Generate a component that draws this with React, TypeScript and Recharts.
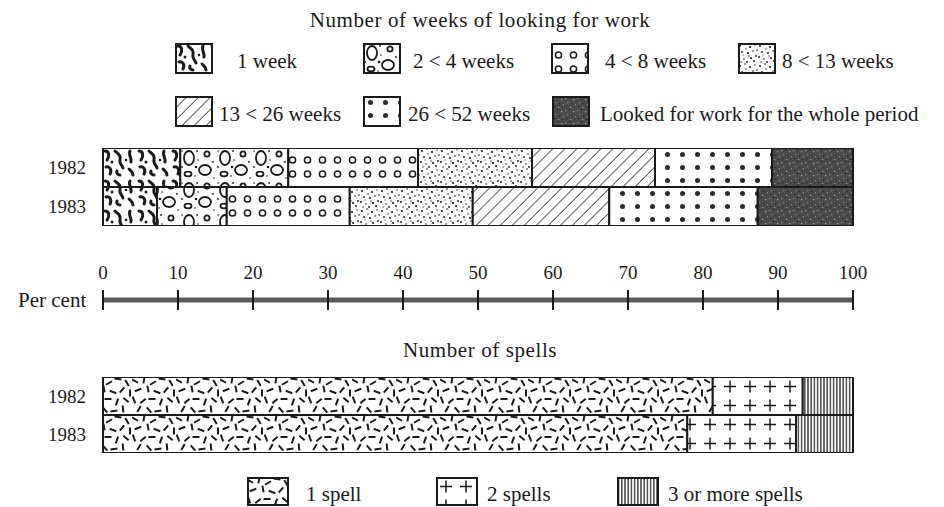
import React from 'react';
import { BarChart, Bar, XAxis, YAxis } from 'recharts';

const years = ['1982', '1983'];

const weekLabels = ['1 week', '2 < 4 weeks', '4 < 8 weeks', '8 < 13 weeks', '13 < 26 weeks', '26 < 52 weeks', 'Looked for work for the whole period'];
const weeks1982 = [10.3, 14.4, 17.3, 15.2, 16.4, 15.6, 10.8];
const weeks1983 = [7.2, 9.3, 16.4, 16.4, 18.2, 19.8, 12.7];

const spellLabels = ['1 spell', '2 spells', '3 or more spells'];
const spells1982 = [81.3, 12.0, 6.7];
const spells1983 = [77.9, 14.5, 7.6];

const percentTicks = [0, 10, 20, 30, 40, 50, 60, 70, 80, 90, 100];

const weekPatterns = ['pw1', 'pw2', 'pw3', 'pw4', 'pw5', 'pw6', 'pw7'];
const spellPatterns = ['ps1', 'ps2', 'ps3'];

const FONT = "'Liberation Serif', 'DejaVu Serif', serif";
const INK = '#1a1a1a';

const weekRows = years.map((year, i) => {
  const vals = i === 0 ? weeks1982 : weeks1983;
  const row: Record<string, any> = { year };
  vals.forEach((v, k) => (row['w' + k] = v));
  return row;
});

const spellRows = years.map((year, i) => {
  const vals = i === 0 ? spells1982 : spells1983;
  const row: Record<string, any> = { year };
  vals.forEach((v, k) => (row['s' + k] = v));
  return row;
});

// pattern artwork (not data)
const stipple = [
  [2, 3, 1], [7, 1, 0.8], [12, 4, 1.1], [17, 2, 0.7], [4, 9, 0.9], [10, 10, 1], [15, 8, 0.8],
  [1, 14, 1], [6, 16, 0.8], [13, 15, 1.1], [18, 13, 0.9], [9, 19, 0.9], [3, 19, 0.7], [16, 18, 1],
  [8, 6, 0.7], [19, 7, 0.8], [11, 13, 0.7], [5, 12, 0.6],
];

const dashes = [
  [3, 4, 30], [12, 3, 100], [21, 6, 150], [30, 2, 10], [39, 6, 60],
  [6, 13, 160], [16, 12, 80], [25, 15, 20], [34, 13, 130], [42, 16, 90],
  [2, 23, 70], [11, 24, 140], [20, 22, 0], [29, 25, 110], [38, 23, 40],
  [7, 32, 120], [17, 33, 50], [26, 34, 170], [35, 32, 85],
];

const specks = [
  [1, 2, '#8c8c8c'], [5, 1, '#262626'], [9, 3, '#9a9a9a'], [3, 6, '#7a7a7a'], [7, 7, '#2a2a2a'],
  [11, 8, '#888'], [2, 10, '#2b2b2b'], [6, 11, '#999'], [10, 11, '#303030'],
];

const Patterns = () => (
  <svg width={0} height={0} style={{ position: 'absolute' }}>
    <defs>
      <pattern id="pw1" width={34} height={30} patternUnits="userSpaceOnUse">
        <rect width={34} height={30} fill="#fff" />
        <g stroke={INK} strokeWidth={3} fill="none" strokeLinecap="round">
          <path d="M3 3 C7 3 8 8 5 12" />
          <path d="M13 3 C16 6 19 7 18 12 C17 15 20 17 21 20" />
          <path d="M28 3 C26 7 30 10 29 14" />
          <path d="M4 19 C8 18 10 22 8 26" />
          <path d="M15 23 C14 25 16 27 18 27" />
          <path d="M27 21 C29 23 31 24 31 27" />
        </g>
        <circle cx={10} cy={14} r={1.5} fill={INK} />
        <circle cx={24} cy={12} r={1.3} fill={INK} />
      </pattern>
      <pattern id="pw2" width={36} height={32} patternUnits="userSpaceOnUse">
        <rect width={36} height={32} fill="#fff" />
        <g stroke={INK} strokeWidth={1.8} fill="none">
          <ellipse cx={9} cy={10} rx={5} ry={7} />
          <ellipse cx={25} cy={22} rx={6} ry={5} />
          <circle cx={27} cy={6} r={2.6} />
          <ellipse cx={8} cy={26} rx={3.5} ry={2.3} />
        </g>
        <g fill={INK}>
          <circle cx={17} cy={3} r={0.9} />
          <circle cx={18} cy={12} r={0.8} />
          <circle cx={2} cy={19} r={0.9} />
          <circle cx={15} cy={28} r={0.8} />
          <circle cx={33} cy={14} r={0.9} />
          <circle cx={34} cy={30} r={0.8} />
          <circle cx={16} cy={19} r={1.3} />
          <circle cx={2} cy={3} r={0.8} />
        </g>
      </pattern>
      <pattern id="pw3" width={15} height={39} patternUnits="userSpaceOnUse">
        <rect width={15} height={39} fill="#fff" />
        <circle cx={7.5} cy={12} r={3.1} fill="none" stroke={INK} strokeWidth={1.5} />
        <circle cx={7.5} cy={26} r={3.1} fill="none" stroke={INK} strokeWidth={1.5} />
      </pattern>
      <pattern id="pw4" width={20} height={20} patternUnits="userSpaceOnUse">
        <rect width={20} height={20} fill="#fff" />
        {stipple.map(([x, y, r], i) => (
          <circle key={i} cx={x} cy={y} r={r} fill={INK} />
        ))}
      </pattern>
      <pattern id="pw5" width={8.5} height={8.5} patternUnits="userSpaceOnUse" patternTransform="rotate(45)">
        <rect width={8.5} height={8.5} fill="#fff" />
        <line x1={0} y1={0} x2={0} y2={8.5} stroke={INK} strokeWidth={1.4} />
      </pattern>
      <pattern id="pw6" width={15} height={13} patternUnits="userSpaceOnUse">
        <rect width={15} height={13} fill="#fff" />
        <circle cx={7.5} cy={6.5} r={2.5} fill="#2a2a2a" />
      </pattern>
      <pattern id="pw7" width={12} height={12} patternUnits="userSpaceOnUse">
        <rect width={12} height={12} fill="#4a4a4a" />
        {specks.map(([x, y, c], i) => (
          <rect key={i} x={x as number} y={y as number} width={1.3} height={1.3} fill={c as string} />
        ))}
      </pattern>
      <pattern id="ps1" width={44} height={38} patternUnits="userSpaceOnUse">
        <rect width={44} height={38} fill="#fff" />
        {dashes.map(([x, y, a], i) => (
          <line key={i} x1={x - 3.5} y1={y} x2={x + 3.5} y2={y} stroke={INK} strokeWidth={2}
            transform={`rotate(${a} ${x} ${y})`} />
        ))}
      </pattern>
      <pattern id="ps2" width={20} height={19} patternUnits="userSpaceOnUse">
        <rect width={20} height={19} fill="#fff" />
        <g stroke={INK} strokeWidth={1.5}>
          <line x1={4} y1={9.5} x2={16} y2={9.5} />
          <line x1={10} y1={3.5} x2={10} y2={15.5} />
        </g>
      </pattern>
      <pattern id="ps3" width={3.2} height={10} patternUnits="userSpaceOnUse">
        <rect width={3.2} height={10} fill="#fff" />
        <line x1={1.6} y1={0} x2={1.6} y2={10} stroke={INK} strokeWidth={1.2} />
      </pattern>
    </defs>
  </svg>
);

const txt: React.CSSProperties = {
  position: 'absolute',
  fontFamily: FONT,
  fontSize: 21,
  color: INK,
  whiteSpace: 'nowrap',
  lineHeight: '22px',
};

const Swatch = ({ id, x, y, w, h }: { id: string; x: number; y: number; w: number; h: number }) => (
  <svg width={w} height={h} style={{ position: 'absolute', left: x, top: y }}>
    <rect x={1} y={1} width={w - 2} height={h - 2} fill={`url(#${id})`} stroke={INK} strokeWidth={2} />
  </svg>
);

const LegendItem = ({ id, label, sx, tx, y, w = 38, h = 31 }: any) => (
  <>
    <Swatch id={id} x={sx} y={y} w={w} h={h} />
    <div style={{ ...txt, left: tx, top: y + h / 2 - 9 }}>{label}</div>
  </>
);

const PercentTick = (props: any) => {
  const { x, y, payload } = props;
  return (
    <g>
      <line x1={x} x2={x} y1={y - 10} y2={y + 10} stroke={INK} strokeWidth={2} />
      <text x={x} y={y - 21} textAnchor="middle" fontFamily={FONT} fontSize={19} fill={INK}>
        {payload.value}
      </text>
    </g>
  );
};

const yTick = { fontSize: 19, fill: INK, fontFamily: FONT };

export default function App() {
  return (
    <div style={{ position: 'absolute', left: 0, top: 0, width: 944, height: 507, background: '#fff', overflow: 'hidden' }}>
      <Patterns />

      <div style={{ ...txt, left: 480, top: 9, transform: 'translateX(-50%)', letterSpacing: 0.6 }}>
        Number of weeks of looking for work
      </div>

      <LegendItem id="pw1" label={weekLabels[0]} sx={175} tx={237} y={43} />
      <LegendItem id="pw2" label={weekLabels[1]} sx={363} tx={413} y={43} />
      <LegendItem id="pw3" label={weekLabels[2]} sx={551} tx={605} y={43} />
      <LegendItem id="pw4" label={weekLabels[3]} sx={738} tx={782} y={43} />
      <LegendItem id="pw5" label={weekLabels[4]} sx={175} tx={219} y={96} />
      <LegendItem id="pw6" label={weekLabels[5]} sx={363} tx={408} y={96} />
      <LegendItem id="pw7" label={weekLabels[6]} sx={552} tx={600} y={96} />

      <div style={{ position: 'absolute', left: 0, top: 148 }}>
        <BarChart width={944} height={78} data={weekRows} layout="vertical" barCategoryGap={0}
          margin={{ top: 0, right: 91, bottom: 0, left: 0 }}>
          <XAxis type="number" domain={[0, 100]} hide />
          <YAxis type="category" dataKey="year" width={103} axisLine={false} tickLine={false} tickMargin={11} tick={yTick} />
          {weekPatterns.map((p, k) => (
            <Bar key={p} dataKey={'w' + k} name={weekLabels[k]} stackId="a" fill={`url(#${p})`}
              stroke={INK} strokeWidth={2} isAnimationActive={false} />
          ))}
        </BarChart>
      </div>

      <div style={{ ...txt, left: 18, top: 289 }}>Per cent</div>
      <div style={{ position: 'absolute', left: 0, top: 250 }}>
        <BarChart width={944} height={70} data={weekRows} layout="vertical"
          margin={{ top: 0, right: 91, bottom: 0, left: 103 }}>
          <XAxis type="number" domain={[0, 100]} ticks={percentTicks} height={20} interval={0}
            axisLine={{ stroke: '#5a5a5a', strokeWidth: 5 }} tickLine={false} tickSize={0} tickMargin={0}
            tick={<PercentTick />} />
          <YAxis type="category" dataKey="year" hide />
          <Bar dataKey="w0" fill="none" stroke="none" isAnimationActive={false} />
        </BarChart>
      </div>

      <div style={{ ...txt, left: 480, top: 339, transform: 'translateX(-50%)', letterSpacing: 0.6 }}>
        Number of spells
      </div>

      <div style={{ position: 'absolute', left: 0, top: 377 }}>
        <BarChart width={944} height={76} data={spellRows} layout="vertical" barCategoryGap={0}
          margin={{ top: 0, right: 91, bottom: 0, left: 0 }}>
          <XAxis type="number" domain={[0, 100]} hide />
          <YAxis type="category" dataKey="year" width={103} axisLine={false} tickLine={false} tickMargin={11} tick={yTick} />
          {spellPatterns.map((p, k) => (
            <Bar key={p} dataKey={'s' + k} name={spellLabels[k]} stackId="a" fill={`url(#${p})`}
              stroke={INK} strokeWidth={2} isAnimationActive={false} />
          ))}
        </BarChart>
      </div>

      <LegendItem id="ps1" label={spellLabels[0]} sx={247} tx={306} y={477} w={42} h={29} />
      <LegendItem id="ps2" label={spellLabels[1]} sx={436} tx={487} y={477} w={42} h={29} />
      <LegendItem id="ps3" label={spellLabels[2]} sx={617} tx={668} y={477} w={42} h={29} />
    </div>
  );
}
